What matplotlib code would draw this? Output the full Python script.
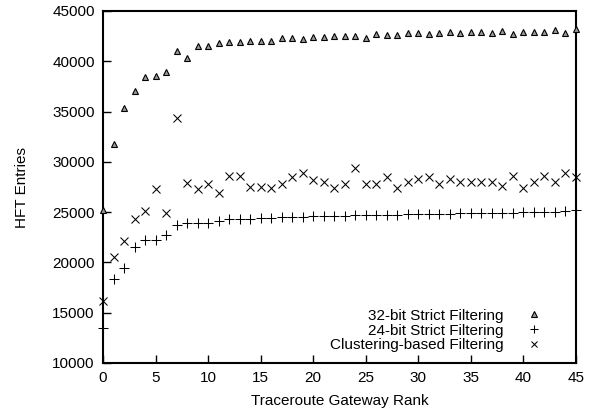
import matplotlib
matplotlib.use("Agg")
import matplotlib.pyplot as plt

ranks = list(range(46))

strict32 = [25200, 31800, 35400, 37000, 38400, 38550, 38900, 41000, 40300, 41500,
            41500, 41850, 41950, 41950, 42000, 42000, 42050, 42350, 42350, 42200,
            42400, 42400, 42500, 42500, 42550, 42300, 42700, 42630, 42630, 42770,
            42770, 42700, 42830, 42930, 42830, 42870, 42870, 42830, 43000, 42700,
            42930, 42870, 42870, 43070, 42800, 43200]

strict24 = [13500, 18400, 19400, 21550, 22200, 22200, 22750, 23700, 23970, 23970,
            23970, 24100, 24270, 24300, 24350, 24400, 24450, 24500, 24500, 24550,
            24580, 24600, 24620, 24650, 24680, 24700, 24720, 24740, 24760, 24780,
            24800, 24820, 24840, 24860, 24870, 24880, 24900, 24920, 24940, 24950,
            24970, 25000, 25020, 25050, 25080, 25200]

clustering = [16200, 20530, 22130, 24270, 25130, 27270, 24930, 34370, 27870, 27300,
              27800, 26870, 28600, 28600, 27530, 27530, 27370, 27770, 28470, 28870,
              28200, 28030, 27370, 27800, 29370, 27800, 27800, 28500, 27370, 28030,
              28270, 28500, 27800, 28270, 27970, 27970, 27970, 27970, 27600, 28600,
              27370, 28030, 28600, 27970, 28930, 28470]

labels = ["32-bit Strict Filtering", "24-bit Strict Filtering", "Clustering-based Filtering"]
xticks = [0, 5, 10, 15, 20, 25, 30, 35, 40, 45]
yticks = [10000, 15000, 20000, 25000, 30000, 35000, 40000, 45000]

plt.rcParams['font.family'] = ['Liberation Sans', 'DejaVu Sans']

fig = plt.figure(figsize=(5.98, 4.13), dpi=100)
ax = fig.add_axes([103/598, 1-363/413, (576-103)/598, (363-11)/413])

ax.plot(ranks, strict32, linestyle='none', marker='^', markersize=4.6,
        markerfacecolor='#999999', markeredgecolor='black', markeredgewidth=0.8,
        label=labels[0], clip_on=False, zorder=3)
ax.plot(ranks, strict24, linestyle='none', marker='+', markersize=6.5,
        color='black', markeredgewidth=0.75, label=labels[1], clip_on=False, zorder=3)
ax.plot(ranks, clustering, linestyle='none', marker='x', markersize=5.2,
        color='black', markeredgewidth=0.75, label=labels[2], clip_on=False, zorder=3)

ax.set_xlim(0, 45)
ax.set_ylim(10000, 45000)
ax.set_xticks(xticks)
ax.set_yticks(yticks)
ax.tick_params(direction='in', length=6, width=1, labelsize=11, pad=6,
               top=False, right=False, colors='black')
for s in ax.spines.values():
    s.set_linewidth(1.5)

ax.set_xlabel("Traceroute Gateway Rank", fontsize=11, labelpad=6)
ax.set_ylabel("HFT Entries", fontsize=11, labelpad=17)

leg = ax.legend(loc='lower right', frameon=False, markerfirst=False, fontsize=11,
                handlelength=1.2, handletextpad=1.37, labelspacing=0.05,
                borderaxespad=0.3, bbox_to_anchor=(0.953, 0.0), markerscale=0.85)

fig.savefig("out.png", dpi=100)
